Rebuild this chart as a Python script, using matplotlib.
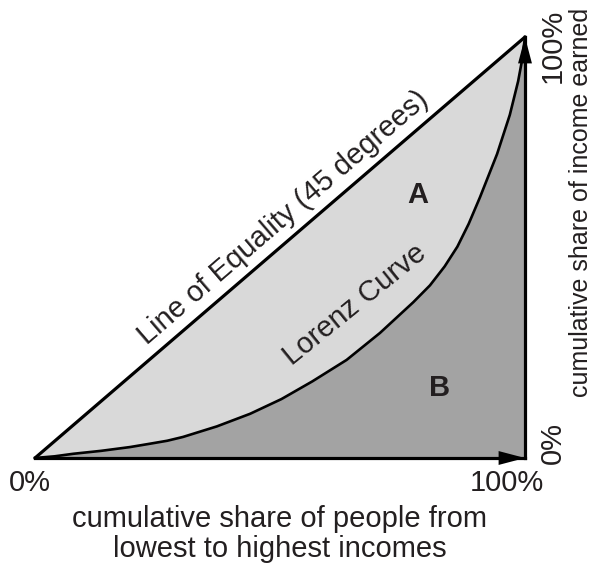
import numpy as np
import matplotlib.pyplot as plt

# Lorenz curve (share of people, share of income)
people = [0, 0.04, 0.078, 0.135, 0.194, 0.235, 0.27, 0.302, 0.371, 0.439, 0.503,
          0.566, 0.636, 0.704, 0.772, 0.806, 0.836, 0.862, 0.885, 0.908,
          0.943, 0.969, 0.986, 0.994, 1.0]
income = [0, 0.004, 0.01, 0.017, 0.026, 0.034, 0.041, 0.05, 0.075, 0.105, 0.14,
          0.182, 0.233, 0.297, 0.37, 0.41, 0.455, 0.502, 0.556, 0.619,
          0.722, 0.815, 0.895, 0.945, 1.0]
tick_labels = ['0%', '100%']
xlabel = 'cumulative share of people from\nlowest to highest incomes'
ylabel = 'cumulative share of income earned'

LIGHT = '#d9d9d9'
DARK = '#a3a3a3'
INK = '#231f20'
W, H = 597, 564
x0, y0, x1, y1 = 35, 458, 525, 37   # pixel corners of the box

plt.rcParams['font.family'] = ['Liberation Sans', 'DejaVu Sans']

fig = plt.figure(figsize=(W / 100, H / 100), dpi=100)
ax = fig.add_axes([x0 / W, (H - y0) / H, (x1 - x0) / W, (y0 - y1) / H])
ax.set_xlim(0, 1)
ax.set_ylim(0, 1)
ax.axis('off')

px = np.array(people)
py = np.array(income)
ax.fill_between(px, py, px, color=LIGHT, lw=0)
ax.fill_between(px, 0, py, color=DARK, lw=0)

ax.plot([0, 1], [0, 1], color='black', lw=2.3, solid_capstyle='round', clip_on=False)
ax.plot(px, py, color='black', lw=1.9, solid_joinstyle='round', clip_on=False)
ax.plot([0, 1], [0, 0], color='black', lw=2.3, clip_on=False)
ax.plot([1, 1], [0, 1], color='black', lw=2.3, clip_on=False)

arrow = dict(arrowstyle='-|>,head_length=0.95,head_width=0.25',
             color='black', lw=0, mutation_scale=20, shrinkA=0, shrinkB=0)
ax.annotate('', xy=(1, 0), xytext=(0.9, 0), arrowprops=arrow, annotation_clip=False)
ax.annotate('', xy=(1, 1), xytext=(1, 0.9), arrowprops=arrow, annotation_clip=False)


def to_data(u, v):
    return (u - x0) / (x1 - x0), (y0 - v) / (y0 - y1)


fs = 21
kw = dict(color=INK, fontsize=fs, ha='center', va='center', clip_on=False)

ax.text(*to_data(30, 483), tick_labels[0], **kw)
ax.text(*to_data(507, 483), tick_labels[1], **kw)
ax.text(*to_data(280, 534), xlabel, linespacing=1.05, **kw)
ax.text(*to_data(553, 46), tick_labels[1], rotation=90, **kw)
ax.text(*to_data(553, 443), tick_labels[0], rotation=90, **kw)
ax.text(*to_data(581, 202), ylabel, rotation=90, **{**kw, 'fontsize': 18})

ax.text(*to_data(283, 218), 'Line of Equality (45 degrees)', rotation=40.7,
        rotation_mode='anchor', **kw)
ax.text(*to_data(355, 305), 'Lorenz Curve', rotation=39, rotation_mode='anchor', **kw)
ax.text(*to_data(418, 195), 'A', fontweight='bold', **kw)
ax.text(*to_data(440, 388), 'B', fontweight='bold', **kw)

fig.savefig('out.png', dpi=100)
